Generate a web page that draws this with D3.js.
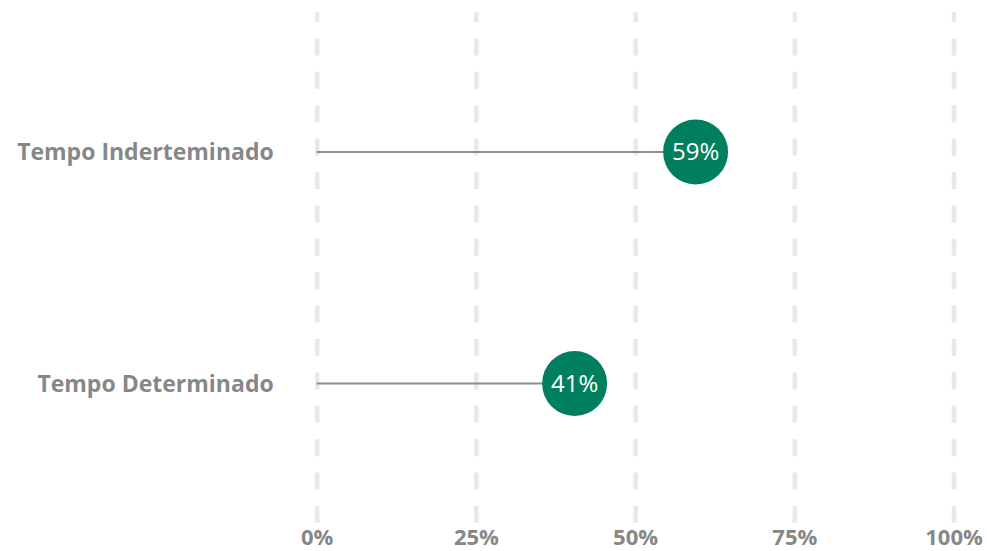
<!DOCTYPE html>
<html>
<head>
<meta charset="utf-8">
<script src="https://cdn.jsdelivr.net/npm/d3@7"></script>
<style>
  body { margin: 0; background: #fff; }
  text { font-family: "Open Sans", sans-serif; }
</style>
</head>
<body>
<div id="chart"></div>
<script>
// data
var categories = ["Tempo Inderteminado", "Tempo Determinado"];
var values = [0.595, 0.405];
var valueLabels = ["59%", "41%"];
var tickValues = [0, 0.25, 0.5, 0.75, 1];

var w = 987, h = 551;
var axisY = 523;

var svg = d3.select("#chart").append("svg")
    .attr("width", w)
    .attr("height", h);

var x = d3.scaleLinear().domain([0, 1]).range([316.7, 953.5]);
var y = d3.scalePoint().domain(categories).range([152, 383.5]);

// gridlines + tick labels
var axis = d3.axisBottom(x)
    .tickValues(tickValues)
    .tickFormat(d3.format(".0%"))
    .tickSizeInner(-(axisY - 12))
    .tickSizeOuter(0);

var gAxis = svg.append("g")
    .attr("transform", "translate(0," + axisY + ")")
    .call(axis);
gAxis.select(".domain").remove();
gAxis.selectAll(".tick line")
    .attr("stroke", "#e8e8e8")
    .attr("stroke-width", 4.5)
    .attr("stroke-dasharray", "17,16.4");
gAxis.selectAll(".tick text")
    .attr("y", 21.5)
    .attr("dy", null)
    .attr("fill", "#878787")
    .attr("font-size", "22px")
    .attr("font-weight", "bold")
    .attr("font-family", "Open Sans, sans-serif");

// category labels
svg.selectAll(".cat")
    .data(categories)
    .enter()
    .append("text")
    .attr("class", "cat")
    .attr("x", x(0) - 43)
    .attr("y", function (d) { return y(d); })
    .attr("dy", "0.35em")
    .attr("text-anchor", "end")
    .attr("fill", "#878787")
    .attr("font-size", "23px")
    .attr("font-weight", "bold")
    .text(function (d) { return d; });

// stems
svg.selectAll(".stem")
    .data(values)
    .enter()
    .append("line")
    .attr("x1", x(0))
    .attr("x2", function (d) { return x(d); })
    .attr("y1", function (d, i) { return y(categories[i]); })
    .attr("y2", function (d, i) { return y(categories[i]); })
    .attr("stroke", "#8c8c8c")
    .attr("stroke-width", 2);

// dots
svg.selectAll(".dot")
    .data(values)
    .enter()
    .append("circle")
    .attr("cx", function (d) { return x(d); })
    .attr("cy", function (d, i) { return y(categories[i]); })
    .attr("r", 32.5)
    .attr("fill", "#007f5f");

svg.selectAll(".val")
    .data(values)
    .enter()
    .append("text")
    .attr("x", function (d) { return x(d); })
    .attr("y", function (d, i) { return y(categories[i]); })
    .attr("dy", "0.35em")
    .attr("text-anchor", "middle")
    .attr("fill", "#fff")
    .attr("font-size", "24px")
    .text(function (d, i) { return valueLabels[i]; });
</script>
</body>
</html>
